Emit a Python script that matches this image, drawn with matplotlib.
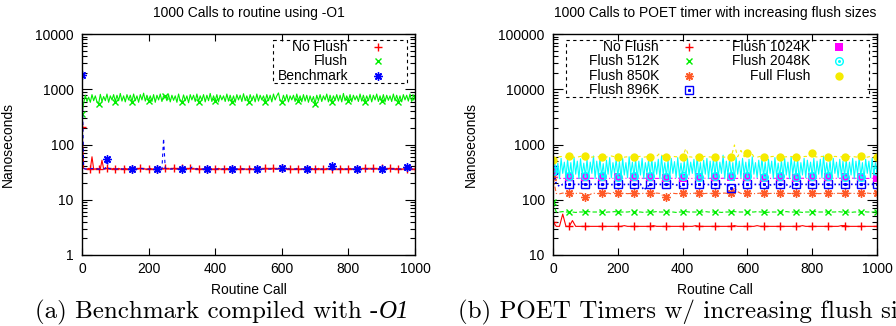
import numpy as np
import matplotlib
matplotlib.use("Agg")
import matplotlib.pyplot as plt
from matplotlib.ticker import FixedLocator, LogLocator, NullFormatter, NullLocator

plt.rcParams['font.family'] = ['Liberation Sans', 'DejaVu Sans']

# ---------------- Data: panel (a), sampled every 5 calls ----------------
calls_a = np.arange(0, 1001, 5)

no_flush_a = [
    210, 37, 36, 36, 37, 36, 60, 36, 36, 37, 36, 36, 52, 36, 36, 37, 36, 36, 36, 37,
    36, 36, 37, 36, 36, 36, 37, 36, 36, 36, 36, 37, 36, 36, 36, 37, 36, 36, 36, 36,
    36, 37, 36, 36, 36, 36, 37, 36, 36, 36, 37, 36, 36, 36, 36, 37, 36, 36, 36, 36,
    37, 36, 36, 36, 36, 37, 36, 36, 36, 37, 36, 36, 36, 36, 37, 36, 36, 37, 36, 36,
    36, 36, 37, 36, 36, 36, 36, 37, 36, 36, 36, 36, 37, 36, 36, 36, 37, 36, 36, 36,
    36, 37, 36, 36, 36, 36, 37, 36, 36, 36, 37, 36, 36, 36, 36, 37, 36, 36, 36, 36,
    37, 36, 36, 36, 37, 36, 36, 36, 36, 37, 36, 36, 36, 36, 37, 36, 36, 36, 37, 36,
    36, 36, 37, 36, 36, 36, 36, 37, 36, 36, 36, 36, 37, 36, 36, 36, 37, 36, 36, 36,
    36, 37, 36, 36, 36, 36, 37, 36, 36, 36, 37, 36, 36, 36, 36, 37, 36, 36, 36, 36,
    37, 36, 36, 36, 36, 37, 36, 36, 36, 37, 36, 36, 36, 36, 37, 36, 36, 37, 36, 36,
    36]

flush_a = [
    360, 560, 780, 600, 720, 580, 800, 620, 760, 590, 550, 810, 600, 740, 620, 820, 580, 760, 640, 800,
    600, 780, 620, 840, 610, 760, 590, 800, 640, 780, 600, 820, 620, 760, 580, 800, 640, 850, 610, 780,
    620, 760, 600, 800, 580, 780, 640, 820, 600, 760, 750, 620, 800, 590, 780, 630, 760, 580, 820, 610,
    600, 790, 620, 760, 570, 800, 640, 780, 600, 820, 600, 760, 630, 800, 590, 780, 620, 840, 600, 760,
    620, 800, 590, 780, 640, 760, 600, 820, 610, 780, 600, 760, 580, 800, 640, 780, 600, 830, 620, 760,
    600, 800, 630, 760, 590, 820, 610, 780, 640, 760, 600, 800, 620, 780, 590, 820, 640, 760, 860, 620,
    600, 780, 620, 800, 590, 760, 640, 780, 600, 820, 620, 760, 590, 800, 610, 780, 580, 760, 600, 740,
    550, 780, 620, 800, 600, 760, 640, 820, 590, 780, 600, 760, 630, 800, 610, 780, 590, 840, 620, 760,
    620, 800, 590, 780, 640, 760, 600, 820, 610, 780, 600, 760, 620, 800, 590, 780, 640, 820, 600, 760,
    610, 800, 590, 780, 630, 760, 600, 820, 620, 780, 600, 760, 590, 800, 640, 780, 610, 820, 600, 760,
    720]

benchmark_a = [
    1810, 37, 36, 36, 36, 36, 37, 36, 36, 36, 36, 36, 36, 36, 37, 54, 37, 36, 36, 36,
    36, 36, 36, 37, 36, 36, 36, 36, 36, 36, 36, 36, 36, 36, 36, 36, 37, 36, 36, 36,
    36, 36, 36, 36, 36, 36, 36, 36, 36, 129, 37, 36, 36, 36, 36, 36, 36, 36, 36, 36,
    36, 36, 36, 36, 36, 36, 39, 36, 36, 36, 36, 36, 36, 36, 36, 36, 36, 36, 36, 36,
    36, 36, 36, 36, 36, 36, 36, 36, 36, 36, 36, 36, 36, 36, 36, 36, 36, 36, 36, 36,
    36, 36, 36, 36, 36, 36, 36, 36, 36, 36, 36, 36, 36, 36, 36, 36, 36, 36, 36, 36,
    38, 36, 36, 36, 36, 36, 36, 36, 36, 36, 36, 36, 36, 36, 36, 36, 36, 36, 36, 36,
    36, 36, 36, 36, 36, 36, 36, 36, 36, 36, 40, 36, 36, 36, 36, 36, 36, 36, 36, 36,
    36, 36, 36, 36, 36, 36, 36, 36, 36, 36, 36, 36, 36, 36, 36, 36, 36, 36, 36, 36,
    36, 36, 36, 36, 36, 36, 36, 36, 36, 36, 36, 36, 36, 36, 36, 39, 36, 36, 36, 36,
    36]

# ---------------- Data: panel (b) ----------------
calls_b10 = np.arange(0, 1001, 10)   # sampled every 10 calls
calls_b5 = np.arange(0, 1001, 5)     # sampled every 5 calls

no_flush_b = [
    40, 33, 33, 55, 33, 33, 42, 33, 33, 33, 33, 33, 33, 33, 33, 33, 33, 33, 33, 33,
    33, 33, 34, 33, 33, 33, 33, 33, 33, 33, 33, 34, 33, 33, 33, 33, 33, 33, 33, 33,
    33, 33, 33, 33, 34, 33, 33, 33, 33, 33, 33, 33, 33, 33, 33, 33, 34, 33, 33, 33,
    33, 33, 33, 34, 33, 33, 33, 33, 33, 33, 33, 33, 33, 33, 33, 33, 33, 34, 33, 33,
    33, 33, 33, 33, 33, 33, 33, 33, 33, 34, 34, 33, 33, 33, 33, 33, 33, 33, 33, 33,
    33]

flush512_b = [
    90, 60, 60, 61, 60, 60, 60, 59, 60, 60, 60, 61, 60, 60, 60, 60, 59, 60, 60, 61,
    60, 60, 60, 60, 61, 60, 60, 60, 59, 60, 60, 60, 61, 60, 60, 60, 60, 60, 59, 60,
    60, 61, 60, 60, 60, 60, 60, 61, 60, 60, 60, 60, 59, 60, 60, 60, 61, 60, 60, 60,
    60, 60, 60, 61, 60, 60, 59, 60, 60, 60, 60, 60, 61, 60, 60, 60, 60, 59, 60, 60,
    60, 61, 60, 60, 60, 60, 60, 60, 61, 60, 60, 60, 59, 60, 60, 60, 61, 60, 60, 60,
    60]

flush850_b = [
    260, 130, 128, 132, 130, 131, 129, 130, 132, 130, 114, 120, 130, 131, 129, 135, 130, 132, 128, 140,
    135, 130, 131, 129, 130, 132, 130, 128, 131, 130, 130, 129, 132, 130, 118, 113, 130, 131, 129, 130,
    130, 131, 129, 130, 132, 130, 128, 130, 131, 130, 130, 129, 131, 132, 130, 130, 165, 140, 130, 129,
    131, 130, 129, 130, 132, 130, 128, 130, 131, 130, 130, 129, 131, 130, 130, 130, 129, 132, 130, 130,
    130, 131, 129, 130, 132, 130, 128, 130, 131, 130, 130, 129, 131, 130, 130, 130, 129, 132, 130, 130,
    130]

flush896_b = [
    350, 195, 175, 190, 188, 190, 191, 189, 190, 192, 190, 188, 190, 191, 189, 190, 190, 192, 188, 190,
    190, 191, 189, 190, 188, 190, 190, 192, 150, 170, 190, 189, 191, 190, 188, 190, 190, 191, 189, 170,
    190, 188, 191, 190, 189, 190, 192, 190, 188, 191, 190, 189, 190, 191, 188, 160, 175, 190, 189, 190,
    190, 191, 189, 190, 188, 190, 170, 185, 190, 189, 190, 191, 189, 170, 188, 190, 190, 191, 189, 190,
    190, 188, 191, 190, 189, 190, 185, 190, 188, 191, 190, 189, 190, 191, 188, 190, 192, 190, 189, 190,
    190]

flush1024_b = [
    320, 260, 245, 242, 245, 255, 244, 243, 245, 246, 255, 244, 245, 243, 246, 255, 245, 244, 243, 245,
    255, 244, 243, 246, 245, 255, 243, 245, 244, 246, 255, 245, 243, 244, 246, 250, 244, 245, 243, 246,
    250, 245, 244, 243, 246, 255, 244, 245, 243, 246, 255, 245, 244, 246, 243, 255, 245, 243, 244, 246,
    255, 244, 246, 243, 245, 250, 245, 244, 243, 246, 255, 244, 245, 243, 246, 250, 244, 245, 243, 246,
    255, 245, 244, 243, 246, 255, 244, 245, 243, 246, 255, 245, 244, 246, 243, 255, 245, 243, 244, 246,
    245]

flush2048_b = [
    330, 520, 280, 460, 240, 560, 300, 480, 250, 540, 265, 470, 230, 580, 290, 500, 240, 550, 280, 460,
    265, 540, 250, 480, 300, 620, 240, 500, 280, 560, 265, 450, 230, 520, 290, 580, 250, 470, 300, 540,
    262, 500, 240, 560, 280, 470, 250, 600, 290, 480, 265, 540, 230, 500, 280, 560, 240, 470, 300, 520,
    265, 560, 250, 480, 290, 540, 240, 620, 280, 470, 262, 520, 230, 560, 300, 490, 250, 580, 270, 460,
    265, 500, 240, 560, 280, 480, 300, 540, 250, 600, 262, 470, 230, 520, 290, 560, 240, 500, 280, 540,
    268, 560, 250, 480, 300, 640, 240, 500, 280, 540, 265, 470, 230, 580, 290, 500, 250, 560, 280, 480,
    265, 540, 240, 600, 290, 470, 250, 520, 280, 560, 262, 480, 230, 540, 300, 500, 240, 580, 270, 460,
    265, 520, 250, 560, 280, 480, 240, 600, 290, 500, 262, 540, 230, 470, 280, 560, 250, 520, 300, 480,
    265, 560, 240, 500, 290, 540, 250, 620, 280, 470, 265, 520, 230, 560, 300, 480, 250, 540, 270, 500,
    262, 540, 250, 480, 280, 560, 240, 500, 290, 580, 262, 470, 230, 540, 300, 500, 250, 560, 280, 470,
    330]

full_flush_b = [
    520, 590, 600, 610, 590, 610, 600, 580, 600, 620, 620, 600, 590, 610, 600, 600, 590, 600, 620, 600,
    600, 610, 590, 600, 600, 590, 600, 610, 590, 600, 590, 600, 610, 700, 600, 600, 590, 610, 600, 600,
    600, 850, 600, 590, 610, 590, 600, 610, 600, 590, 600, 610, 600, 590, 600, 590, 980, 600, 780, 600,
    710, 750, 600, 590, 610, 600, 590, 600, 610, 600, 600, 590, 600, 610, 600, 600, 590, 600, 610, 600,
    690, 600, 590, 610, 600, 600, 590, 610, 600, 600, 590, 600, 610, 600, 590, 620, 600, 590, 610, 600,
    600]

x_ticks = [0, 200, 400, 600, 800, 1000]
y_ticks_a = [1, 10, 100, 1000, 10000]
y_ticks_b = [10, 100, 1000, 10000, 100000]

# ---------------- Figure ----------------
W, H = 896, 326
fig = plt.figure(figsize=(W / 100, H / 100), dpi=100)

def px_axes(l, r, t, b):
    return fig.add_axes([l / W, (H - b) / H, (r - l) / W, (b - t) / H])

axA = px_axes(82, 415, 34, 255)
axB = px_axes(553, 877, 34, 255)

RED = '#ff0000'
GREEN = '#00ee00'
BLUE = '#0000ff'
ORANGE = '#ff5a28'
MAGENTA = '#ff00ff'
CYAN = '#00ffff'
YELLOW = '#f5eb00'

LW = 0.8
AST = (8, 2, 0)

# panel (a)
axA.plot(calls_a, no_flush_a, color=RED, lw=LW, marker='+', ms=6, mew=1.0, markevery=5)
axA.plot(calls_a, flush_a, color=GREEN, lw=LW, marker='x', ms=5, mew=1.0, markevery=10)
axA.plot(calls_a, benchmark_a, color=BLUE, lw=LW, ls=(0, (3, 3)), marker=AST, ms=6,
         mew=1.0, markevery=15)

# panel (b)
axB.plot(calls_b10, no_flush_b, color=RED, lw=LW, marker='+', ms=6, mew=1.0, markevery=5)
axB.plot(calls_b10, flush512_b, color=GREEN, lw=LW, ls=(0, (4, 2)), marker='x', ms=5, mew=1.0,
         markevery=5)
axB.plot(calls_b10, flush850_b, color=ORANGE, lw=LW, ls=(0, (4, 2, 1, 2)), marker=AST, ms=6,
         mew=1.0, markevery=5)
axB.plot(calls_b10, flush896_b, color=BLUE, lw=LW + 0.4, ls=(0, (1, 1.5)), marker='s', ms=6,
         mfc='none', mew=1.0, markevery=5)
axB.plot(calls_b10, flush896_b, color=BLUE, ls='none', marker='s', ms=1.2, markevery=5)
axB.plot(calls_b10, flush1024_b, color=MAGENTA, lw=LW, ls=(0, (4, 2, 1, 2, 1, 2)), marker='s',
         ms=6, mew=0, markevery=5)
axB.plot(calls_b5, flush2048_b, color=CYAN, lw=LW, marker='o', ms=5.5, mfc='none', mew=1.0,
         markevery=10)
axB.plot(calls_b5, flush2048_b, color=CYAN, ls='none', marker='o', ms=1.2, markevery=10)
axB.plot(calls_b10, full_flush_b, color=YELLOW, lw=LW, ls=(0, (3, 3)), marker='o', ms=6, mew=0,
         markevery=5)

def style(ax, yticks):
    ax.set_xlim(0, 1000)
    ax.set_yscale('log')
    ax.set_ylim(yticks[0], yticks[-1])
    ax.xaxis.set_major_locator(FixedLocator(x_ticks))
    ax.xaxis.set_minor_locator(NullLocator())
    ax.set_xticklabels([str(t) for t in x_ticks])
    ax.yaxis.set_major_locator(FixedLocator(yticks))
    ax.yaxis.set_minor_locator(LogLocator(base=10, subs=np.arange(2, 10), numticks=20))
    ax.yaxis.set_minor_formatter(NullFormatter())
    ax.set_yticklabels([str(t) for t in yticks])
    ax.tick_params(which='both', direction='in', top=True, right=True, labelsize=10, width=0.8,
                   colors='black')
    ax.tick_params(axis='y', which='major', length=7, pad=6)
    ax.tick_params(axis='y', which='minor', length=3.5)
    ax.tick_params(axis='x', which='major', length=5, pad=5)
    for s in ax.spines.values():
        s.set_linewidth(1.0)
    ax.set_xlabel('Routine Call', fontsize=10)

style(axA, y_ticks_a)
style(axB, y_ticks_b)

axA.xaxis.set_label_coords(0.5, (255 - 283) / 221)
axB.xaxis.set_label_coords(0.5, (255 - 283) / 221)
axA.set_ylabel('Nanoseconds', fontsize=10)
axB.set_ylabel('Nanoseconds', fontsize=10)
axA.yaxis.set_label_coords((15 - 82) / 333, 0.5)
axB.yaxis.set_label_coords((478 - 553) / 324, 0.5)

axA.text(0.5, (255 - 13) / 221, '1000 Calls to routine using -O1', transform=axA.transAxes,
         ha='center', va='center', fontsize=10)
axB.text(0.5, (255 - 13) / 221, '1000 Calls to POET timer with increasing flush sizes',
         transform=axB.transAxes, ha='center', va='center', fontsize=10)

# ---------------- gnuplot-style keys ----------------
def key_box(ax, x0, x1, y0, y1):
    ax.plot([x0, x1, x1, x0, x0], [y1, y1, y0, y0, y1], transform=ax.transAxes, color='black',
            lw=0.8, ls=(0, (3, 3)), clip_on=False, zorder=5)

def key_entry(ax, xtext, xmark, y, label, **mk):
    ax.text(xtext, y, label, transform=ax.transAxes, ha='right', va='center', fontsize=10, zorder=6)
    ax.plot([xmark], [y], transform=ax.transAxes, ls='none', clip_on=False, zorder=6, **mk)

def fx(ax_l, ax_w, px):
    return (px - ax_l) / ax_w

def fy(py):
    return (255 - py) / 221

key_box(axA, fx(82, 333, 273), fx(82, 333, 407), fy(83), fy(40))
xt, xm = fx(82, 333, 348), fx(82, 333, 378)
key_entry(axA, xt, xm, fy(47), 'No Flush', marker='+', ms=6, mew=1.0, color=RED)
key_entry(axA, xt, xm, fy(61), 'Flush', marker='x', ms=5, mew=1.0, color=GREEN)
key_entry(axA, xt, xm, fy(76), 'Benchmark', marker=AST, ms=6, mew=1.0, color=BLUE)

key_box(axB, fx(553, 324, 566), fx(553, 324, 869), fy(97), fy(40))
xt1, xm1 = fx(553, 324, 659), fx(553, 324, 689)
xt2, xm2 = fx(553, 324, 810), fx(553, 324, 839)
key_entry(axB, xt1, xm1, fy(47), 'No Flush', marker='+', ms=6, mew=1.0, color=RED)
key_entry(axB, xt1, xm1, fy(61), 'Flush 512K', marker='x', ms=5, mew=1.0, color=GREEN)
key_entry(axB, xt1, xm1, fy(76), 'Flush 850K', marker=AST, ms=6, mew=1.0, color=ORANGE)
key_entry(axB, xt1, xm1, fy(90), 'Flush 896K', marker='s', ms=6, mfc='none', mew=1.0, color=BLUE)
axB.plot([xm1], [fy(90)], transform=axB.transAxes, ls='none', marker='s', ms=1.2, color=BLUE,
         clip_on=False, zorder=7)
key_entry(axB, xt2, xm2, fy(47), 'Flush 1024K', marker='s', ms=6, mew=0, color=MAGENTA)
key_entry(axB, xt2, xm2, fy(61), 'Flush 2048K', marker='o', ms=5.5, mfc='none', mew=1.0, color=CYAN)
axB.plot([xm2], [fy(61)], transform=axB.transAxes, ls='none', marker='o', ms=1.2, color=CYAN,
         clip_on=False, zorder=7)
key_entry(axB, xt2, xm2, fy(76), 'Full Flush', marker='o', ms=6, mew=0, color=YELLOW)

# ---------------- sub-captions ----------------
cap_y = (H - 318) / H
CAP_FS = 18
capA = fig.text(35 / W, cap_y, '(a) Benchmark compiled with -', fontfamily='cmr10',
                fontsize=CAP_FS, ha='left', va='baseline')
fig.canvas.draw()
bb = capA.get_window_extent()
fig.text(bb.x1 / W, cap_y, 'O1', fontfamily='Liberation Serif', style='italic', fontsize=CAP_FS,
         ha='left', va='baseline')
fig.text(458 / W, cap_y, '(b) POET Timers w/ increasing flush sizes', fontfamily='cmr10',
         fontsize=CAP_FS, ha='left', va='baseline')

fig.savefig('out.png', dpi=100)
